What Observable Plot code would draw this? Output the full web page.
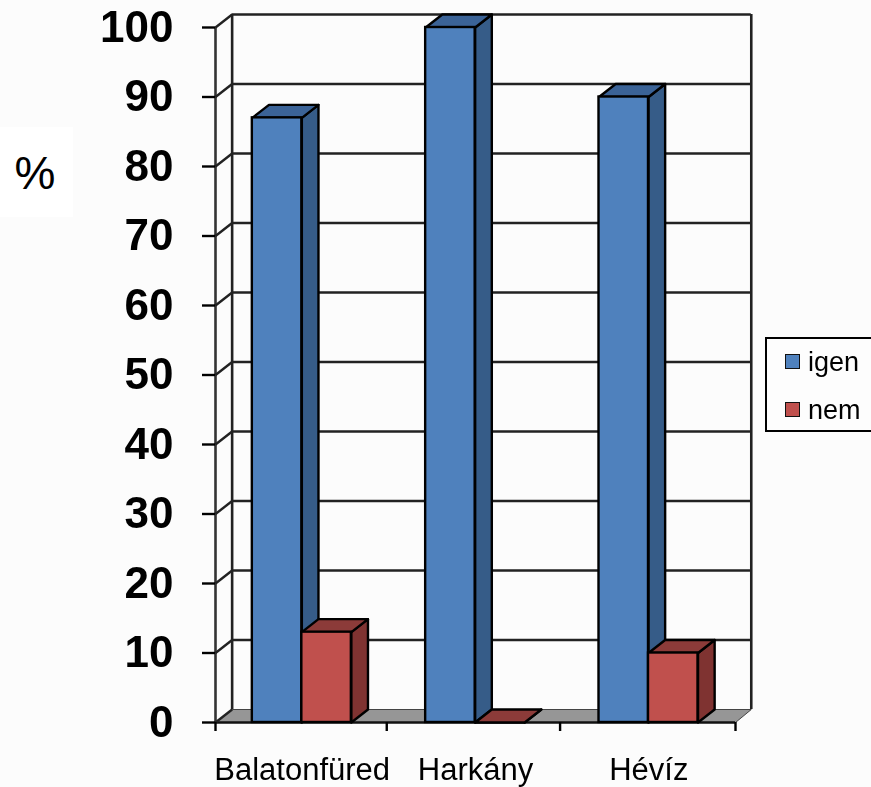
<!DOCTYPE html>
<html><head><meta charset="utf-8">
<script src="https://cdn.jsdelivr.net/npm/d3@7"></script>
<script src="https://cdn.jsdelivr.net/npm/@observablehq/plot@0.6"></script>
<style>
html,body{margin:0;padding:0;background:#fcfcfc;font-family:"Liberation Sans",Arial,sans-serif;}
#wrap{position:relative;width:871px;height:787px;overflow:hidden;filter:blur(0.55px);}
#pct{position:absolute;left:0;top:127px;width:70px;padding-right:3px;height:90px;background:#fff;color:#000;font-size:46px;line-height:92px;text-align:center;}
#legend{position:absolute;left:765px;top:337px;width:110px;height:95px;border:2px solid #000;box-sizing:border-box;background:#fdfdfd;font-size:27px;color:#000;}
#legend div{position:absolute;left:18px;height:26px;line-height:26px;padding-left:23px;}
#legend i{position:absolute;left:0;top:5px;width:15px;height:15px;border:1.5px solid #111;box-sizing:border-box;}
svg{overflow:visible;}
</style></head><body>
<div id="wrap"></div>
<script>
const categories = ["Balatonfüred","Harkány","Hévíz"];
const igen = [87,100,90];
const nem = [13,0,10];
const yTicks = [0,10,20,30,40,50,60,70,80,90,100];
const xTicks = [0,0.988,1.988,3];

const depthX = 0.096, depthY = 1.87, barW = 0.2856, gap = 0.2125;
const poly = (id, pts) => pts.map(([x,y]) => ({id,x,y}));
function faces(vals, offset){
  const out=[];
  vals.forEach((v,i)=>{
    const l=i+gap+offset, r=l+barW;
    out.push(...poly(`side${offset}${i}`,[[r,0],[r+depthX,depthY],[r+depthX,v+depthY],[r,v],[r,0]]));
    out.push(...poly(`top${offset}${i}`,[[l,v],[l+depthX,v+depthY],[r+depthX,v+depthY],[r,v],[l,v]]));
  });
  return out;
}
const kind = d => d.id.slice(0,3);
const blue = faces(igen,0), red = faces(nem,barW);
const rects = (vals,offset)=>vals.map((v,i)=>({x1:i+gap+offset,x2:i+gap+offset+barW,y1:0,y2:v})).filter(d=>d.y2>0);
const R = 3+depthX-0.005;
const floor = poly("floor",[[0,0],[depthX,depthY],[R,depthY],[3,0],[0,0]]);
const chart = Plot.plot({
  width:871,height:787,marginLeft:215,marginRight:136,marginTop:27,marginBottom:65,
  style:{background:"transparent",overflow:"visible"},
  x:{domain:[0,3],axis:null},
  y:{domain:[0,100],axis:null},
  marks:[
    Plot.line(floor,{x:"x",y:"y",z:"id",fill:"#969696",stroke:"#444",strokeWidth:1}),
    Plot.ruleY(yTicks.slice(1),{x1:depthX,x2:R,y:d=>d+depthY,stroke:"#222",strokeWidth:2.6}),
    Plot.ruleX([depthX,R],{y1:depthY,y2:100+depthY,stroke:"#222",strokeWidth:2.6}),
    Plot.ruleX([0],{y1:0,y2:100,stroke:"#333",strokeWidth:2.6}),
    Plot.ruleY([0],{x1:0,x2:3,stroke:"#111",strokeWidth:2.4}),
    Plot.link(yTicks,{x1:0,y1:d=>d,x2:depthX,y2:d=>d+depthY,stroke:"#222",strokeWidth:2.4}),
    Plot.line(blue.filter(d=>kind(d)==="sid"),{x:"x",y:"y",z:"id",fill:"#365C88",stroke:"#000",strokeWidth:2.4}),
    Plot.line(blue.filter(d=>kind(d)==="top"),{x:"x",y:"y",z:"id",fill:"#3B6397",stroke:"#000",strokeWidth:2.4}),
    Plot.rect(rects(igen,0),{x1:"x1",x2:"x2",y1:"y1",y2:"y2",fill:"#4F81BD",stroke:"#000",strokeWidth:2.4}),
    Plot.line(red.filter(d=>kind(d)==="sid"),{x:"x",y:"y",z:"id",fill:"#7F3331",stroke:"#000",strokeWidth:2.4}),
    Plot.line(red.filter(d=>kind(d)==="top"),{x:"x",y:"y",z:"id",fill:"#8C3B39",stroke:"#000",strokeWidth:2.4}),
    Plot.rect(rects(nem,barW),{x1:"x1",x2:"x2",y1:"y1",y2:"y2",fill:"#C0504D",stroke:"#000",strokeWidth:2.4}),
    Plot.axisY({ticks:yTicks,tickSize:13,tickPadding:29,fontSize:44,fontWeight:"bold",label:null,tickFormat:d=>String(d),strokeWidth:2.4,stroke:"#000",fill:"#000",fontFamily:"Liberation Sans"}),
    Plot.axisX({ticks:xTicks,tickSize:9,tickFormat:()=>"",label:null,strokeWidth:2.4,stroke:"#000"}),
    Plot.text(categories,{x:(d,i)=>i+0.5,y:0,dy:48,text:d=>d,fontSize:31,fill:"#000",fontFamily:"Liberation Sans"})
  ]
});
const wrap=document.getElementById("wrap");
wrap.appendChild(chart);
wrap.insertAdjacentHTML("beforeend",`<div id="pct">%</div>
<div id="legend"><div style="top:10px"><i style="background:#4F81BD"></i>igen</div><div style="top:58px"><i style="background:#C0504D"></i>nem</div></div>`);
</script>
</body></html>
